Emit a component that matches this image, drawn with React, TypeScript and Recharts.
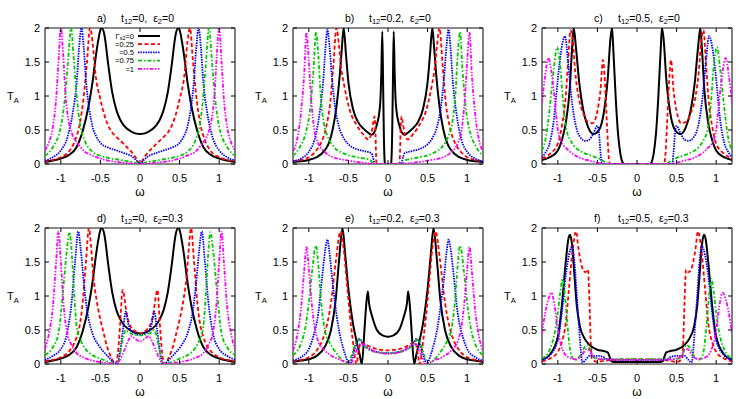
import { Line, LineChart, ReferenceArea, ReferenceLine, XAxis, YAxis } from 'recharts'

type Pt = [number, number]

const xTicks = [-1, -0.5, 0, 0.5, 1]
const yTicks = [0, 0.5, 1, 1.5, 2]
const panelLetters = ['a)', 'b)', 'c)', 'd)', 'e)', 'f)']
const t12Values = ['0', '0.2', '0.5', '0', '0.2', '0.5']
const eps2Values = ['0', '0', '0', '0.3', '0.3', '0.3']
const gammaLabels = ['=0', '=0.25', '=0.5', '=0.75', '=1']

// a) t12=0, eps2=0
const aK: Pt[] = [[-1.2,0.03],[-1.1,0.05],[-1,0.08],[-0.9,0.13],[-0.8,0.25],[-0.72,0.5],[-0.65,0.85],[-0.6,1.2],[-0.55,1.65],[-0.5,1.97],[-0.48,2],[-0.45,1.9],[-0.4,1.45],[-0.35,1.05],[-0.3,0.8],[-0.25,0.65],[-0.2,0.56],[-0.1,0.47],[0,0.44],[0.1,0.47],[0.2,0.56],[0.25,0.65],[0.3,0.8],[0.35,1.05],[0.4,1.45],[0.45,1.9],[0.48,2],[0.5,1.97],[0.55,1.65],[0.6,1.2],[0.65,0.85],[0.72,0.5],[0.8,0.25],[0.9,0.13],[1,0.08],[1.1,0.05],[1.2,0.03]]
const aR: Pt[] = [[-1.2,0.04],[-1.1,0.06],[-1,0.1],[-0.9,0.18],[-0.82,0.35],[-0.76,0.6],[-0.71,1],[-0.67,1.5],[-0.63,2],[-0.6,1.8],[-0.56,1.3],[-0.5,0.95],[-0.45,0.72],[-0.4,0.56],[-0.35,0.46],[-0.3,0.4],[-0.2,0.29],[-0.15,0.23],[-0.08,0.14],[-0.04,0.07],[0,0],[0.04,0.07],[0.08,0.14],[0.15,0.23],[0.2,0.29],[0.3,0.4],[0.35,0.46],[0.4,0.56],[0.45,0.72],[0.5,0.95],[0.56,1.3],[0.6,1.8],[0.63,2],[0.67,1.5],[0.71,1],[0.76,0.6],[0.82,0.35],[0.9,0.18],[1,0.1],[1.1,0.06],[1.2,0.04]]
const aB: Pt[] = [[-1.2,0.05],[-1.1,0.1],[-1,0.2],[-0.92,0.38],[-0.85,0.75],[-0.8,1.2],[-0.77,1.7],[-0.74,2],[-0.71,1.7],[-0.68,1.2],[-0.64,0.8],[-0.6,0.55],[-0.55,0.4],[-0.5,0.31],[-0.4,0.24],[-0.3,0.2],[-0.2,0.16],[-0.1,0.11],[-0.05,0.06],[0,0],[0.05,0.06],[0.1,0.11],[0.2,0.16],[0.3,0.2],[0.4,0.24],[0.5,0.31],[0.55,0.4],[0.6,0.55],[0.64,0.8],[0.68,1.2],[0.71,1.7],[0.74,2],[0.77,1.7],[0.8,1.2],[0.85,0.75],[0.92,0.38],[1,0.2],[1.1,0.1],[1.2,0.05]]
const aG: Pt[] = [[-1.2,0.12],[-1.1,0.25],[-1,0.55],[-0.95,0.95],[-0.91,1.5],[-0.87,2],[-0.84,1.6],[-0.8,1],[-0.76,0.6],[-0.7,0.35],[-0.6,0.18],[-0.5,0.12],[-0.4,0.09],[-0.3,0.07],[-0.2,0.05],[-0.1,0.03],[0,0],[0.1,0.03],[0.2,0.05],[0.3,0.07],[0.4,0.09],[0.5,0.12],[0.6,0.18],[0.7,0.35],[0.76,0.6],[0.8,1],[0.84,1.6],[0.87,2],[0.91,1.5],[0.95,0.95],[1,0.55],[1.1,0.25],[1.2,0.12]]
const aM: Pt[] = [[-1.2,0.2],[-1.15,0.32],[-1.1,0.55],[-1.06,0.95],[-1.03,1.5],[-1,2],[-0.97,1.6],[-0.94,1],[-0.9,0.62],[-0.86,0.45],[-0.8,0.32],[-0.76,0.26],[-0.7,0.18],[-0.63,0.14],[-0.5,0.08],[-0.4,0.05],[-0.2,0.02],[0,0],[0.2,0.02],[0.4,0.05],[0.5,0.08],[0.63,0.14],[0.7,0.18],[0.76,0.26],[0.8,0.32],[0.86,0.45],[0.9,0.62],[0.94,1],[0.97,1.6],[1,2],[1.03,1.5],[1.06,0.95],[1.1,0.55],[1.15,0.32],[1.2,0.2]]

// b) t12=0.2, eps2=0
const bK: Pt[] = [[-1.2,0.03],[-1.1,0.04],[-1,0.06],[-0.9,0.1],[-0.8,0.2],[-0.75,0.3],[-0.7,0.5],[-0.65,0.85],[-0.61,1.3],[-0.58,1.75],[-0.56,2],[-0.53,1.6],[-0.5,1.2],[-0.44,0.8],[-0.38,0.62],[-0.31,0.52],[-0.25,0.46],[-0.205,0.43],[-0.14,0.58],[-0.1,0.87],[-0.085,1.3],[-0.072,1.95],[-0.062,1.2],[-0.052,0.4],[-0.043,0.05],[-0.038,0],[0.038,0],[0.043,0.05],[0.052,0.4],[0.062,1.2],[0.072,1.95],[0.085,1.3],[0.1,0.87],[0.14,0.58],[0.205,0.43],[0.25,0.46],[0.31,0.52],[0.38,0.62],[0.44,0.8],[0.5,1.2],[0.53,1.6],[0.56,2],[0.58,1.75],[0.61,1.3],[0.65,0.85],[0.7,0.5],[0.75,0.3],[0.8,0.2],[0.9,0.1],[1,0.06],[1.1,0.04],[1.2,0.03]]
const bR: Pt[] = [[-1.2,0.04],[-1.1,0.06],[-1,0.1],[-0.92,0.18],[-0.85,0.3],[-0.78,0.55],[-0.73,0.9],[-0.69,1.45],[-0.65,2],[-0.62,1.75],[-0.59,1.4],[-0.556,1.17],[-0.48,0.78],[-0.4,0.58],[-0.31,0.43],[-0.25,0.36],[-0.21,0.45],[-0.185,0.62],[-0.17,0.7],[-0.158,0.45],[-0.15,0.1],[-0.145,0],[0.145,0],[0.15,0.1],[0.158,0.45],[0.17,0.7],[0.185,0.62],[0.21,0.45],[0.25,0.36],[0.31,0.43],[0.4,0.58],[0.48,0.78],[0.556,1.17],[0.59,1.4],[0.62,1.75],[0.65,2],[0.69,1.45],[0.73,0.9],[0.78,0.55],[0.85,0.3],[0.92,0.18],[1,0.1],[1.1,0.06],[1.2,0.04]]
const bB: Pt[] = [[-1.2,0.04],[-1.1,0.08],[-1,0.18],[-0.93,0.35],[-0.87,0.7],[-0.82,1.2],[-0.79,1.7],[-0.765,1.98],[-0.74,1.75],[-0.71,1.3],[-0.67,0.85],[-0.62,0.55],[-0.56,0.38],[-0.48,0.27],[-0.4,0.22],[-0.3,0.19],[-0.21,0.16],[-0.19,0.1],[-0.175,0.03],[-0.165,0],[0.165,0],[0.175,0.03],[0.19,0.1],[0.21,0.16],[0.3,0.19],[0.4,0.22],[0.48,0.27],[0.56,0.38],[0.62,0.55],[0.67,0.85],[0.71,1.3],[0.74,1.75],[0.765,1.98],[0.79,1.7],[0.82,1.2],[0.87,0.7],[0.93,0.35],[1,0.18],[1.1,0.08],[1.2,0.04]]
const bG: Pt[] = [[-1.2,0.12],[-1.1,0.28],[-1.04,0.45],[-0.98,0.85],[-0.94,1.4],[-0.91,1.94],[-0.88,1.6],[-0.85,1],[-0.81,0.6],[-0.76,0.4],[-0.69,0.26],[-0.57,0.16],[-0.4,0.1],[-0.23,0.06],[-0.17,0],[0.17,0],[0.23,0.06],[0.4,0.1],[0.57,0.16],[0.69,0.26],[0.76,0.4],[0.81,0.6],[0.85,1],[0.88,1.6],[0.91,1.94],[0.94,1.4],[0.98,0.85],[1.04,0.45],[1.1,0.28],[1.2,0.12]]
const bM: Pt[] = [[-1.2,0.19],[-1.15,0.35],[-1.1,0.75],[-1.06,1.3],[-1.03,1.93],[-1,1.5],[-0.97,0.95],[-0.93,0.5],[-0.88,0.3],[-0.81,0.19],[-0.7,0.1],[-0.6,0.07],[-0.5,0.05],[-0.4,0.03],[-0.25,0.01],[-0.15,0],[0.15,0],[0.25,0.01],[0.4,0.03],[0.5,0.05],[0.6,0.07],[0.7,0.1],[0.81,0.19],[0.88,0.3],[0.93,0.5],[0.97,0.95],[1,1.5],[1.03,1.93],[1.06,1.3],[1.1,0.75],[1.15,0.35],[1.2,0.19]]

// c) t12=0.5, eps2=0
const cK: Pt[] = [[-1.2,0.06],[-1.1,0.1],[-1,0.2],[-0.95,0.35],[-0.9,0.6],[-0.85,1.1],[-0.82,1.7],[-0.8,2],[-0.77,1.7],[-0.73,1.2],[-0.68,0.8],[-0.62,0.55],[-0.55,0.44],[-0.48,0.5],[-0.42,0.75],[-0.37,1.25],[-0.335,1.85],[-0.315,2],[-0.3,1.7],[-0.27,1],[-0.24,0.45],[-0.21,0.15],[-0.18,0.02],[-0.16,0],[0.16,0],[0.18,0.02],[0.21,0.15],[0.24,0.45],[0.27,1],[0.3,1.7],[0.315,2],[0.335,1.85],[0.37,1.25],[0.42,0.75],[0.48,0.5],[0.55,0.44],[0.62,0.55],[0.68,0.8],[0.73,1.2],[0.77,1.7],[0.8,2],[0.82,1.7],[0.85,1.1],[0.9,0.6],[0.95,0.35],[1,0.2],[1.1,0.1],[1.2,0.06]]
const cR: Pt[] = [[-1.2,0.08],[-1.1,0.15],[-1,0.3],[-0.95,0.55],[-0.9,1],[-0.87,1.5],[-0.84,1.97],[-0.81,1.8],[-0.78,1.35],[-0.74,1],[-0.68,0.75],[-0.62,0.62],[-0.56,0.6],[-0.5,0.78],[-0.46,1.1],[-0.43,1.53],[-0.41,1.3],[-0.38,0.6],[-0.36,0.15],[-0.34,0],[0.34,0],[0.36,0.15],[0.38,0.6],[0.41,1.3],[0.43,1.53],[0.46,1.1],[0.5,0.78],[0.56,0.6],[0.62,0.62],[0.68,0.75],[0.74,1],[0.78,1.35],[0.81,1.8],[0.84,1.97],[0.87,1.5],[0.9,1],[0.95,0.55],[1,0.3],[1.1,0.15],[1.2,0.08]]
const cB: Pt[] = [[-1.2,0.1],[-1.15,0.18],[-1.1,0.32],[-1.05,0.65],[-1,1.25],[-0.96,1.65],[-0.91,1.88],[-0.87,1.5],[-0.83,1],[-0.78,0.6],[-0.72,0.4],[-0.65,0.34],[-0.6,0.36],[-0.55,0.45],[-0.5,0.56],[-0.48,0.45],[-0.46,0.15],[-0.445,0],[0.445,0],[0.46,0.15],[0.48,0.45],[0.5,0.56],[0.55,0.45],[0.6,0.36],[0.65,0.34],[0.72,0.4],[0.78,0.6],[0.83,1],[0.87,1.5],[0.91,1.88],[0.96,1.65],[1,1.25],[1.05,0.65],[1.1,0.32],[1.15,0.18],[1.2,0.1]]
const cG: Pt[] = [[-1.2,0.2],[-1.15,0.4],[-1.1,0.85],[-1.05,1.4],[-1.01,1.72],[-0.97,1.45],[-0.93,0.85],[-0.89,0.5],[-0.84,0.35],[-0.79,0.26],[-0.7,0.18],[-0.6,0.13],[-0.5,0.09],[-0.45,0.06],[-0.38,0.01],[-0.35,0],[0.35,0],[0.38,0.01],[0.45,0.06],[0.5,0.09],[0.6,0.13],[0.7,0.18],[0.79,0.26],[0.84,0.35],[0.89,0.5],[0.93,0.85],[0.97,1.45],[1.01,1.72],[1.05,1.4],[1.1,0.85],[1.15,0.4],[1.2,0.2]]
const cM: Pt[] = [[-1.2,0.9],[-1.16,1.3],[-1.12,1.56],[-1.08,1.35],[-1.04,0.95],[-1,0.5],[-0.96,0.33],[-0.9,0.24],[-0.8,0.14],[-0.7,0.08],[-0.6,0.05],[-0.5,0.02],[-0.4,0],[0.4,0],[0.5,0.02],[0.6,0.05],[0.7,0.08],[0.8,0.14],[0.9,0.24],[0.96,0.33],[1,0.5],[1.04,0.95],[1.08,1.35],[1.12,1.56],[1.16,1.3],[1.2,0.9]]

// d) t12=0, eps2=0.3
const dK: Pt[] = [[-1.2,0.03],[-1.1,0.05],[-1,0.08],[-0.9,0.13],[-0.8,0.25],[-0.72,0.5],[-0.65,0.85],[-0.6,1.2],[-0.55,1.65],[-0.5,1.97],[-0.48,2],[-0.45,1.9],[-0.4,1.45],[-0.35,1.05],[-0.3,0.8],[-0.25,0.66],[-0.2,0.57],[-0.1,0.48],[0,0.45],[0.1,0.48],[0.2,0.57],[0.25,0.66],[0.3,0.8],[0.35,1.05],[0.4,1.45],[0.45,1.9],[0.48,2],[0.5,1.97],[0.55,1.65],[0.6,1.2],[0.65,0.85],[0.72,0.5],[0.8,0.25],[0.9,0.13],[1,0.08],[1.1,0.05],[1.2,0.03]]
const dR: Pt[] = [[-1.2,0.04],[-1.1,0.06],[-1,0.1],[-0.9,0.18],[-0.8,0.4],[-0.76,0.58],[-0.72,0.95],[-0.68,1.55],[-0.645,2],[-0.62,1.75],[-0.59,1.3],[-0.55,0.95],[-0.5,0.65],[-0.46,0.46],[-0.42,0.27],[-0.38,0.14],[-0.34,0.04],[-0.31,0],[-0.28,0.15],[-0.25,0.6],[-0.22,1.09],[-0.2,1],[-0.17,0.75],[-0.13,0.58],[-0.07,0.49],[0,0.45],[0.07,0.49],[0.13,0.58],[0.17,0.75],[0.2,1],[0.22,1.09],[0.25,0.6],[0.28,0.15],[0.31,0],[0.34,0.04],[0.38,0.14],[0.42,0.27],[0.46,0.46],[0.5,0.65],[0.55,0.95],[0.59,1.3],[0.62,1.75],[0.645,2],[0.68,1.55],[0.72,0.95],[0.76,0.58],[0.8,0.4],[0.9,0.18],[1,0.1],[1.1,0.06],[1.2,0.04]]
const dB: Pt[] = [[-1.2,0.06],[-1.1,0.12],[-1,0.22],[-0.92,0.46],[-0.86,0.95],[-0.82,1.5],[-0.78,1.95],[-0.75,1.7],[-0.71,1.2],[-0.67,0.8],[-0.6,0.45],[-0.52,0.27],[-0.46,0.18],[-0.38,0.08],[-0.33,0.02],[-0.29,0],[-0.25,0.2],[-0.21,0.55],[-0.18,0.77],[-0.15,0.6],[-0.1,0.47],[0,0.43],[0.1,0.47],[0.15,0.6],[0.18,0.77],[0.21,0.55],[0.25,0.2],[0.29,0],[0.33,0.02],[0.38,0.08],[0.46,0.18],[0.52,0.27],[0.6,0.45],[0.67,0.8],[0.71,1.2],[0.75,1.7],[0.78,1.95],[0.82,1.5],[0.86,0.95],[0.92,0.46],[1,0.22],[1.1,0.12],[1.2,0.06]]
const dG: Pt[] = [[-1.2,0.13],[-1.1,0.25],[-1.03,0.45],[-0.97,1.1],[-0.93,1.6],[-0.89,1.94],[-0.86,1.6],[-0.83,1],[-0.8,0.55],[-0.75,0.35],[-0.7,0.24],[-0.6,0.13],[-0.5,0.08],[-0.42,0.04],[-0.35,0.01],[-0.3,0],[-0.26,0.1],[-0.22,0.35],[-0.18,0.5],[-0.15,0.47],[-0.1,0.44],[0,0.42],[0.1,0.44],[0.15,0.47],[0.18,0.5],[0.22,0.35],[0.26,0.1],[0.3,0],[0.35,0.01],[0.42,0.04],[0.5,0.08],[0.6,0.13],[0.7,0.24],[0.75,0.35],[0.8,0.55],[0.83,1],[0.86,1.6],[0.89,1.94],[0.93,1.6],[0.97,1.1],[1.03,0.45],[1.1,0.25],[1.2,0.13]]
const dM: Pt[] = [[-1.2,0.22],[-1.15,0.45],[-1.1,0.85],[-1.06,1.5],[-1.03,1.95],[-1,1.5],[-0.96,0.8],[-0.92,0.46],[-0.86,0.27],[-0.8,0.16],[-0.7,0.09],[-0.6,0.05],[-0.5,0.03],[-0.4,0.01],[-0.32,0],[-0.26,0.05],[-0.2,0.2],[-0.15,0.34],[-0.11,0.41],[-0.06,0.37],[0,0.33],[0.06,0.37],[0.11,0.41],[0.15,0.34],[0.2,0.2],[0.26,0.05],[0.32,0],[0.4,0.01],[0.5,0.03],[0.6,0.05],[0.7,0.09],[0.8,0.16],[0.86,0.27],[0.92,0.46],[0.96,0.8],[1,1.5],[1.03,1.95],[1.06,1.5],[1.1,0.85],[1.15,0.45],[1.2,0.22]]

// e) t12=0.2, eps2=0.3
const eK: Pt[] = [[-1.2,0.03],[-1.1,0.05],[-1,0.07],[-0.9,0.12],[-0.8,0.25],[-0.72,0.5],[-0.66,0.95],[-0.62,1.5],[-0.575,2],[-0.54,1.6],[-0.5,1.1],[-0.45,0.65],[-0.4,0.35],[-0.36,0.15],[-0.33,0],[-0.3,0.45],[-0.28,0.8],[-0.255,1.07],[-0.24,0.9],[-0.2,0.7],[-0.14,0.5],[-0.07,0.42],[0,0.4],[0.07,0.42],[0.14,0.5],[0.2,0.7],[0.24,0.9],[0.255,1.07],[0.28,0.8],[0.3,0.45],[0.33,0],[0.36,0.15],[0.4,0.35],[0.45,0.65],[0.5,1.1],[0.54,1.6],[0.575,2],[0.62,1.5],[0.66,0.95],[0.72,0.5],[0.8,0.25],[0.9,0.12],[1,0.07],[1.1,0.05],[1.2,0.03]]
const eR: Pt[] = [[-1.2,0.04],[-1.1,0.06],[-1,0.1],[-0.9,0.2],[-0.8,0.45],[-0.72,0.9],[-0.66,1.5],[-0.6,1.95],[-0.56,1.7],[-0.52,1.2],[-0.48,0.7],[-0.44,0.3],[-0.42,0.1],[-0.4,0],[-0.37,0.2],[-0.34,0.32],[-0.3,0.3],[-0.2,0.24],[-0.1,0.21],[0,0.2],[0.1,0.21],[0.2,0.24],[0.3,0.3],[0.34,0.32],[0.37,0.2],[0.4,0],[0.42,0.1],[0.44,0.3],[0.48,0.7],[0.52,1.2],[0.56,1.7],[0.6,1.95],[0.66,1.5],[0.72,0.9],[0.8,0.45],[0.9,0.2],[1,0.1],[1.1,0.06],[1.2,0.04]]
const eB: Pt[] = [[-1.2,0.05],[-1.1,0.1],[-1,0.22],[-0.95,0.38],[-0.88,0.75],[-0.83,1.3],[-0.79,1.7],[-0.765,1.83],[-0.74,1.65],[-0.71,1.3],[-0.67,0.9],[-0.62,0.5],[-0.57,0.25],[-0.53,0.1],[-0.49,0],[-0.44,0.15],[-0.39,0.33],[-0.36,0.37],[-0.32,0.3],[-0.2,0.2],[-0.1,0.17],[0,0.16],[0.1,0.17],[0.2,0.2],[0.32,0.3],[0.36,0.37],[0.39,0.33],[0.44,0.15],[0.49,0],[0.53,0.1],[0.57,0.25],[0.62,0.5],[0.67,0.9],[0.71,1.3],[0.74,1.65],[0.765,1.83],[0.79,1.7],[0.83,1.3],[0.88,0.75],[0.95,0.38],[1,0.22],[1.1,0.1],[1.2,0.05]]
const eG: Pt[] = [[-1.2,0.13],[-1.1,0.3],[-1.05,0.5],[-1,0.9],[-0.96,1.35],[-0.91,1.74],[-0.87,1.3],[-0.84,0.85],[-0.79,0.46],[-0.74,0.32],[-0.7,0.24],[-0.62,0.11],[-0.56,0.04],[-0.52,0],[-0.46,0.12],[-0.41,0.3],[-0.37,0.36],[-0.33,0.3],[-0.2,0.19],[-0.1,0.17],[0,0.16],[0.1,0.17],[0.2,0.19],[0.33,0.3],[0.37,0.36],[0.41,0.3],[0.46,0.12],[0.52,0],[0.56,0.04],[0.62,0.11],[0.7,0.24],[0.74,0.32],[0.79,0.46],[0.84,0.85],[0.87,1.3],[0.91,1.74],[0.96,1.35],[1,0.9],[1.05,0.5],[1.1,0.3],[1.2,0.13]]
const eM: Pt[] = [[-1.2,0.2],[-1.15,0.4],[-1.1,0.8],[-1.06,1.35],[-1.03,1.72],[-1,1.4],[-0.96,0.85],[-0.92,0.5],[-0.88,0.33],[-0.8,0.2],[-0.7,0.11],[-0.6,0.06],[-0.52,0.02],[-0.48,0],[-0.43,0.1],[-0.38,0.25],[-0.34,0.3],[-0.3,0.28],[-0.2,0.2],[-0.1,0.16],[0,0.15],[0.1,0.16],[0.2,0.2],[0.3,0.28],[0.34,0.3],[0.38,0.25],[0.43,0.1],[0.48,0],[0.52,0.02],[0.6,0.06],[0.7,0.11],[0.8,0.2],[0.88,0.33],[0.92,0.5],[0.96,0.85],[1,1.4],[1.03,1.72],[1.06,1.35],[1.1,0.8],[1.15,0.4],[1.2,0.2]]

// f) t12=0.5, eps2=0.3
const fK: Pt[] = [[-1.2,0.06],[-1.1,0.14],[-1,0.4],[-0.95,0.85],[-0.9,1.5],[-0.865,1.85],[-0.845,1.9],[-0.82,1.75],[-0.79,1.3],[-0.76,0.85],[-0.72,0.55],[-0.66,0.37],[-0.6,0.28],[-0.5,0.21],[-0.42,0.19],[-0.37,0.17],[-0.35,0.12],[-0.33,0.05],[-0.3,0.03],[0,0.03],[0.3,0.03],[0.33,0.05],[0.35,0.12],[0.37,0.17],[0.42,0.19],[0.5,0.21],[0.6,0.28],[0.66,0.37],[0.72,0.55],[0.76,0.85],[0.79,1.3],[0.82,1.75],[0.845,1.9],[0.865,1.85],[0.9,1.5],[0.95,0.85],[1,0.4],[1.1,0.14],[1.2,0.06]]
const fR: Pt[] = [[-1.2,0.04],[-1.1,0.08],[-1,0.18],[-0.95,0.32],[-0.9,0.6],[-0.86,1.1],[-0.82,1.6],[-0.77,1.95],[-0.74,1.7],[-0.71,1.5],[-0.68,1.38],[-0.65,1.35],[-0.62,1.39],[-0.6,0.9],[-0.585,0.35],[-0.57,0.08],[-0.5,0.03],[-0.4,0.05],[-0.3,0.06],[0,0.07],[0.3,0.06],[0.4,0.05],[0.5,0.03],[0.57,0.08],[0.585,0.35],[0.6,0.9],[0.62,1.39],[0.65,1.35],[0.68,1.38],[0.71,1.5],[0.74,1.7],[0.77,1.95],[0.82,1.6],[0.86,1.1],[0.9,0.6],[0.95,0.32],[1,0.18],[1.1,0.08],[1.2,0.04]]
const fB: Pt[] = [[-1.2,0.06],[-1.1,0.13],[-1,0.35],[-0.95,0.75],[-0.9,1.3],[-0.86,1.6],[-0.82,1.73],[-0.79,1.5],[-0.76,1],[-0.73,0.5],[-0.71,0.2],[-0.69,0.02],[-0.65,0.06],[-0.6,0.12],[-0.5,0.12],[-0.42,0.1],[-0.38,0.07],[-0.3,0.06],[0,0.06],[0.3,0.06],[0.38,0.07],[0.42,0.1],[0.5,0.12],[0.6,0.12],[0.65,0.06],[0.69,0.02],[0.71,0.2],[0.73,0.5],[0.76,1],[0.79,1.5],[0.82,1.73],[0.86,1.6],[0.9,1.3],[0.95,0.75],[1,0.35],[1.1,0.13],[1.2,0.06]]
const fG: Pt[] = [[-1.2,0.08],[-1.1,0.22],[-1.05,0.4],[-1,0.75],[-0.97,1.05],[-0.94,1.25],[-0.91,1],[-0.88,0.6],[-0.85,0.25],[-0.82,0.1],[-0.78,0.06],[-0.72,0.12],[-0.66,0.25],[-0.62,0.28],[-0.58,0.15],[-0.52,0.08],[-0.4,0.07],[0,0.07],[0.4,0.07],[0.52,0.08],[0.58,0.15],[0.62,0.28],[0.66,0.25],[0.72,0.12],[0.78,0.06],[0.82,0.1],[0.85,0.25],[0.88,0.6],[0.91,1],[0.94,1.25],[0.97,1.05],[1,0.75],[1.05,0.4],[1.1,0.22],[1.2,0.08]]
const fM: Pt[] = [[-1.2,0.45],[-1.16,0.75],[-1.12,0.95],[-1.08,1.05],[-1.04,0.85],[-1,0.5],[-0.96,0.28],[-0.92,0.16],[-0.85,0.09],[-0.78,0.07],[-0.7,0.12],[-0.64,0.22],[-0.6,0.2],[-0.54,0.1],[-0.45,0.07],[0,0.06],[0.45,0.07],[0.54,0.1],[0.6,0.2],[0.64,0.22],[0.7,0.12],[0.78,0.07],[0.85,0.09],[0.92,0.16],[0.96,0.28],[1,0.5],[1.04,0.85],[1.08,1.05],[1.12,0.95],[1.16,0.75],[1.2,0.45]]

const panelSeries: Pt[][][] = [
  [aK, aR, aB, aG, aM],
  [bK, bR, bB, bG, bM],
  [cK, cR, cB, cG, cM],
  [dK, dR, dB, dG, dM],
  [eK, eR, eB, eG, eM],
  [fK, fR, fB, fG, fM],
]

const lineStyles = [
  { color: '#000000', dash: undefined as string | undefined },
  { color: '#ff0000', dash: '4 2.5' },
  { color: '#0000ff', dash: '1.5 1' },
  { color: '#00c800', dash: '4 2 1.5 2' },
  { color: '#ff00ff', dash: '4 1.5 1.5 1.5 1.5 1.5' },
]

const PW = 190
const PH = 136
const Y_AXIS_W = 45
const TOP_M = 28
const FONT = '"Liberation Sans", Arial, sans-serif'
const panelPos = [[0, 0], [248, 0], [497, 0], [0, 200], [248, 200], [497, 200]]

function XTick(props: any) {
  const { x, y, payload } = props
  return (
    <g>
      <line x1={x} y1={y} x2={x} y2={y - 4} stroke="#000" />
      <line x1={x} y1={y - PH} x2={x} y2={y - PH + 4} stroke="#000" />
      <text x={x} y={y + 18} textAnchor="middle" fontSize={11} fill="#000" fontFamily={FONT}>{payload.value}</text>
    </g>
  )
}

function YTick(props: any) {
  const { x, y, payload } = props
  return (
    <g>
      <line x1={x} y1={y} x2={x + 4} y2={y} stroke="#000" />
      <line x1={x + PW - 4} y1={y} x2={x + PW} y2={y} stroke="#000" />
      <text x={x - 5} y={y + 4} textAnchor="end" fontSize={11} fill="#000" fontFamily={FONT}>{payload.value}</text>
    </g>
  )
}

function Panel({ index }: { index: number }) {
  const [left, top] = panelPos[index]
  return (
    <div style={{ position: 'absolute', left, top }}>
      <LineChart width={Y_AXIS_W + PW + 10} height={TOP_M + PH + 35} margin={{ top: TOP_M, right: 10, bottom: 5, left: 0 }}>
        <XAxis type="number" dataKey="x" domain={[-1.2, 1.2]} ticks={xTicks} interval={0} allowDataOverflow axisLine={false} tickLine={false} tickSize={0} tickMargin={0} height={30} tick={<XTick />} />
        <YAxis type="number" domain={[0, 2]} ticks={yTicks} interval={0} allowDataOverflow axisLine={false} tickLine={false} tickSize={0} tickMargin={0} width={Y_AXIS_W} tick={<YTick />} />
        <ReferenceLine y={0} stroke="#8a8a8a" strokeWidth={2} />
        <ReferenceLine y={2} stroke="#8a8a8a" strokeWidth={2} />
        {panelSeries[index].map((pts, i) => (
          <Line
            key={`s${i}`}
            data={pts.map(([x, y]) => ({ x, y }))}
            dataKey="y"
            type="monotone"
            stroke={lineStyles[i].color}
            strokeDasharray={lineStyles[i].dash}
            strokeWidth={i === 0 ? 2 : 1.8}
            dot={false}
            activeDot={false}
            isAnimationActive={false}
          />
        ))}
        <ReferenceArea x1={-1.2} x2={1.2} y1={0} y2={2} fill="none" stroke="#000" strokeWidth={1} ifOverflow="visible" />
      </LineChart>
    </div>
  )
}

function Overlay() {
  return (
    <svg width={747} height={399} style={{ position: 'absolute', left: 0, top: 0, pointerEvents: 'none' }} fontFamily={FONT}>
      {panelPos.map(([left, top], i) => {
        const px = left + Y_AXIS_W
        const py = top + TOP_M
        return (
          <g key={i} fill="#000">
            <text x={px + 52} y={py - 6.5} fontSize={10.5}>{panelLetters[i]}</text>
            <text x={px + 76} y={py - 6.5} fontSize={10.5}>
              t<tspan fontSize={7.5} dy={2.5}>12</tspan>
              <tspan dy={-2.5}>={t12Values[i]},</tspan>
              <tspan dx={6}>ε</tspan>
              <tspan fontSize={7.5} dy={2.5}>2</tspan>
              <tspan dy={-2.5}>={eps2Values[i]}</tspan>
            </text>
            <text x={px - 38} y={py + 72} fontSize={11}>
              T<tspan fontSize={7.5} dy={2.5}>A</tspan>
            </text>
            <text x={px + PW / 2} y={py + 168} fontSize={12} textAnchor="middle">ω</text>
          </g>
        )
      })}
      {gammaLabels.map((lab, i) => {
        const px = panelPos[0][0] + Y_AXIS_W
        const ry = panelPos[0][1] + TOP_M + 8 + i * 8.2
        return (
          <g key={`lg${i}`}>
            <text x={px + 89} y={ry + 2.7} fontSize={7.5} textAnchor="end" fill="#000">
              {i === 0 ? (
                <>
                  Γ<tspan fontSize={5.5} dy={1.5}>s2</tspan>
                  <tspan dy={-1.5}>{lab}</tspan>
                </>
              ) : (
                lab
              )}
            </text>
            <line x1={px + 93} y1={ry} x2={px + 115} y2={ry} stroke={lineStyles[i].color} strokeDasharray={lineStyles[i].dash} strokeWidth={i === 0 ? 2 : 1.8} />
          </g>
        )
      })}
    </svg>
  )
}

export default function App() {
  return (
    <div style={{ position: 'absolute', left: 0, top: 0, width: 747, height: 399, background: '#fff', fontFamily: FONT }}>
      {panelSeries.map((_, i) => (
        <Panel key={i} index={i} />
      ))}
      <Overlay />
    </div>
  )
}
